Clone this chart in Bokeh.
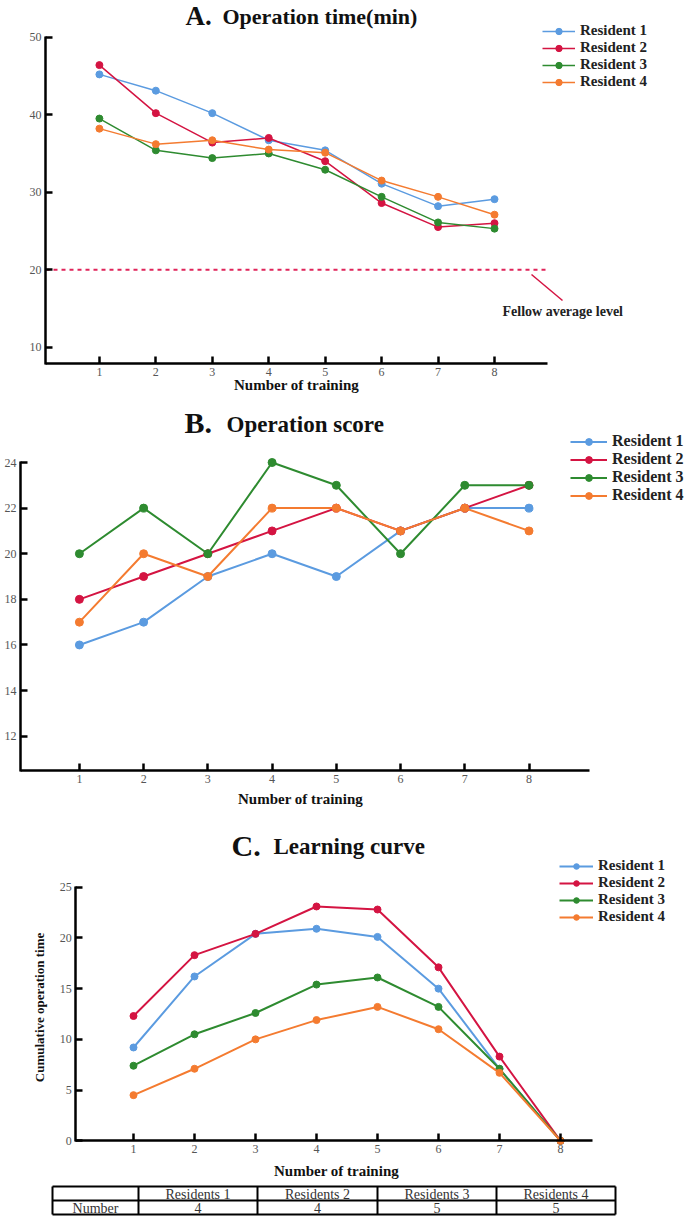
import math
from bokeh.plotting import figure
from bokeh.models import Range1d, FixedTicker, Label, Legend, LegendItem, Arrow, LinearAxis
from bokeh.embed import file_html
from bokeh.resources import INLINE
from bokeh.core.properties import value

# ---------------- data ----------------
trainings = [1, 2, 3, 4, 5, 6, 7, 8]
residents = ["Resident 1", "Resident 2", "Resident 3", "Resident 4"]

time_r1 = [45.2, 43.1, 40.2, 36.7, 35.4, 31.1, 28.2, 29.1]
time_r2 = [46.4, 40.2, 36.4, 37.0, 34.0, 28.6, 25.5, 26.0]
time_r3 = [39.5, 35.4, 34.4, 35.0, 32.9, 29.4, 26.1, 25.3]
time_r4 = [38.2, 36.2, 36.7, 35.5, 35.1, 31.5, 29.4, 27.1]
fellow_level = 20

score_r1 = [16, 17, 19, 20, 19, 21, 22, 22]
score_r2 = [18, 19, 20, 21, 22, 21, 22, 23]
score_r3 = [20, 22, 20, 24, 23, 20, 23, 23]
score_r4 = [17, 20, 19, 22, 22, 21, 22, 21]

curve_r1 = [9.2, 16.2, 20.4, 20.9, 20.1, 15.0, 7.1, 0]
curve_r2 = [12.3, 18.3, 20.4, 23.1, 22.8, 17.1, 8.3, 0]
curve_r3 = [7.4, 10.5, 12.6, 15.4, 16.1, 13.2, 7.1, 0]
curve_r4 = [4.5, 7.1, 10.0, 11.9, 13.2, 11.0, 6.7, 0]

table_header = ["", "Residents 1", "Residents 2", "Residents 3", "Residents 4"]
table_row = ["Number", "4", "4", "5", "5"]

time_ticks = [10, 20, 30, 40, 50]
score_ticks = [12, 14, 16, 18, 20, 22, 24]
curve_ticks = [0, 5, 10, 15, 20, 25]

# ---------------- styles / layout ----------------
COLORS = ["#5b9be0", "#d41442", "#2e8b30", "#f47b30"]
SERIF = "Liberation Serif"
W, H = 685, 1217

# one canvas; base ranges are page pixels (y downwards)
p = figure(width=W, height=H, x_range=Range1d(0, W), y_range=Range1d(H, 0),
           output_backend="svg", toolbar_location=None,
           x_axis_type=None, y_axis_type=None, min_border=0)
p.outline_line_color = None
p.grid.visible = False


class Panel:
    """A chart panel: px positions of two ticks on each axis define its scales."""

    def __init__(self, name, fl, fr, ft, fb, xt, yt, xticks, yticks):
        (px1, v1), (px2, v2) = xt
        self.kx = (v2 - v1) / (px2 - px1)
        self.x0 = v1 - px1 * self.kx
        (py1, w1), (py2, w2) = yt
        self.ky = (w2 - w1) / (py2 - py1)
        self.y0 = w1 - py1 * self.ky
        self.xn, self.yn = name + "_x", name + "_y"
        p.extra_x_ranges[self.xn] = Range1d(self.X(0), self.X(W))
        p.extra_y_ranges[self.yn] = Range1d(self.Y(H), self.Y(0))
        self.xb = (self.X(fl), self.X(fr))
        self.yb = (self.Y(fb), self.Y(ft))
        eps = 0.002 * (self.yb[1] - self.yb[0])
        xa = LinearAxis(x_range_name=self.xn, y_range_name=self.yn,
                        fixed_location=self.yb[0], bounds=self.xb,
                        ticker=FixedTicker(ticks=xticks))
        ya = LinearAxis(x_range_name=self.xn, y_range_name=self.yn,
                        fixed_location=self.xb[0],
                        bounds=(self.yb[0] - eps, self.yb[1] + eps),
                        ticker=FixedTicker(ticks=yticks))
        for ax in (xa, ya):
            ax.axis_line_width = 2.5
            ax.axis_line_color = "black"
            ax.major_tick_in = 7
            ax.major_tick_out = 0
            ax.major_tick_line_width = 2.5
            ax.major_tick_line_color = "black"
            ax.minor_tick_line_color = None
            ax.major_label_text_font = SERIF
            ax.major_label_text_font_size = "12px"
            ax.major_label_text_color = "#555555"
            ax.major_label_standoff = 4
        p.add_layout(xa, "below")
        p.add_layout(ya, "left")

    def X(self, px):
        return self.x0 + px * self.kx

    def Y(self, py):
        return self.y0 + py * self.ky

    def series(self, ys_list, lw, msize):
        pairs = []
        for ys, c in zip(ys_list, COLORS):
            lr = p.line(trainings, ys, line_color=c, line_width=lw,
                        x_range_name=self.xn, y_range_name=self.yn)
            sr = p.scatter(trainings, ys, size=msize, fill_color=c, line_color=c,
                           x_range_name=self.xn, y_range_name=self.yn)
            pairs.append((lr, sr))
        return pairs


def label(px, py, text, size, bold=True, align="left", color="#111111", angle=0.0):
    p.add_layout(Label(x=px, y=py, text=text, text_font=SERIF, text_font_size=size,
                       text_font_style="bold" if bold else "normal",
                       text_align=align, text_baseline="middle",
                       text_color=color, angle=angle))


def legend(pairs, left, top, glyph_w, row_h, size):
    bottom = top + len(pairs) * row_h
    items = [LegendItem(label=name, renderers=[lr, sr])
             for name, (lr, sr) in zip(residents, pairs)]
    leg = Legend(items=items, location=(left, H - bottom),
                 orientation="vertical", glyph_width=glyph_w, glyph_height=row_h,
                 label_height=row_h, label_standoff=5, spacing=0, padding=0,
                 margin=0, border_line_color=None, background_fill_alpha=0,
                 label_text_font=SERIF, label_text_font_style="bold",
                 label_text_font_size=size, label_text_color="#222222")
    p.add_layout(leg)


# ---------------- Panel A ----------------
A = Panel("A", fl=45, fr=547, ft=36.7, fb=363.3,
          xt=((98.9, 1), (494.0, 8)), yt=((36.7, 50), (346.7, 10)),
          xticks=trainings, yticks=time_ticks)
pairsA = A.series([time_r1, time_r2, time_r3, time_r4], 1.5, 7)
p.line(x=list(A.xb), y=[fellow_level, fellow_level], line_color="#e0245a",
       line_width=2, line_dash="4 4", x_range_name=A.xn, y_range_name=A.yn)
p.add_layout(Arrow(end=None, x_start=531, y_start=274, x_end=562, y_end=300,
                   line_color="#d41442", line_width=1.5))
label(502, 311, "Fellow average level", "14px", color="#222222")
label(185, 15, "A.", "27px")
label(222, 16, "Operation  time(min)", "22px")
label(296, 384, "Number of training", "15px", align="center")
legend(pairsA, left=542, top=26, glyph_w=33, row_h=16, size="15px")

# ---------------- Panel B ----------------
B = Panel("B", fl=20, fr=589, ft=462, fb=770,
          xt=((78.9, 1), (528.5, 8)), yt=((462, 24), (735.7, 12)),
          xticks=trainings, yticks=score_ticks)
pairsB = B.series([score_r1, score_r2, score_r3, score_r4], 2, 8)
label(184, 421.7, "B.", "30px")
label(226, 424, "Operation score", "23px")
label(300, 798, "Number of training", "15px", align="center")
legend(pairsB, left=570, top=436, glyph_w=37, row_h=17, size="16px")

# ---------------- Panel C ----------------
C = Panel("C", fl=75.2, fr=592, ft=886.7, fb=1140.3,
          xt=((133, 1), (560, 8)), yt=((886.7, 25), (1140.3, 0)),
          xticks=trainings, yticks=curve_ticks)
pairsC = C.series([curve_r1, curve_r2, curve_r3, curve_r4], 2, 7)
label(231, 844.7, "C.", "30px")
label(273, 845.5, "Learning curve", "23px")
label(336, 1170, "Number of training", "15px", align="center")
label(39, 1007, "Cumulative operation time", "13px", align="center",
      angle=math.pi / 2)
legend(pairsC, left=559, top=869, glyph_w=34, row_h=14, size="15px")

# ---------------- Table ----------------
tbl_left = 52
col_w = [86, 119, 120, 119, 119]
row_y = [1186, 1200, 1214]
edges = [tbl_left]
for w in col_w:
    edges.append(edges[-1] + w)
p.segment(x0=[edges[0]] * len(row_y), x1=[edges[-1]] * len(row_y), y0=row_y, y1=row_y,
          line_color="black", line_width=2)
p.segment(x0=edges, x1=edges, y0=[row_y[0]] * len(edges), y1=[row_y[-1]] * len(edges),
          line_color="black", line_width=2)
centers = [(edges[i] + edges[i + 1]) / 2 for i in range(len(col_w))]
for r, texts in enumerate([table_header, table_row]):
    yc = (row_y[r] + row_y[r + 1]) / 2 + 0.5
    p.text(x=centers, y=[yc] * len(centers), text=texts, text_font=value(SERIF),
           text_font_size="14px", text_align="center", text_baseline="middle",
           text_color="#333333")

open("out.html", "w").write(file_html(p, INLINE))
